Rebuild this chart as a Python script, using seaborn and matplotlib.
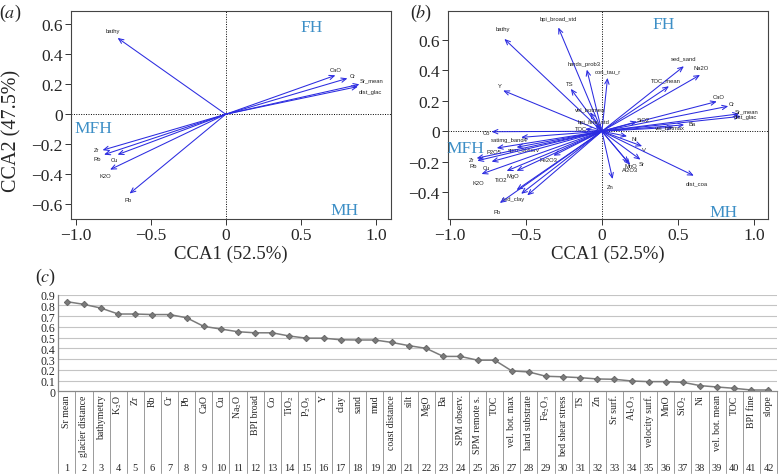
import numpy as np
import pandas as pd
import seaborn as sns
import matplotlib.pyplot as plt
from matplotlib.ticker import FixedLocator, FuncFormatter
from matplotlib.transforms import blended_transform_factory

# (a) CCA biplot, selected variables
a_vars = ['bathy', 'CaO', 'Cr', 'Sr_mean', 'dist_glac', 'Zr', 'Rb', 'Cu', 'K2O', 'Pb']
a_cca1 = [-0.72, 0.73, 0.81, 0.89, 0.88, -0.82, -0.81, -0.72, -0.77, -0.64]
a_cca2 = [0.51, 0.26, 0.24, 0.20, 0.185, -0.24, -0.27, -0.27, -0.37, -0.53]

# (b) CCA biplot, all variables
b_vars = ['bathy', 'bpi_broad_std', 'hards_prob3', 'con_tau_r', 'TS', 'Y', 'vel_botmea',
          'bpi_fine_std', 'TOC', 'sed_sand', 'Na2O', 'TOC_mean', 'CaO', 'Cr', 'Sr_mean',
          'dist_glac', 'SiO2', 'vel_botmax', 'Ba', 'Ni', 'V', 'Sr', 'MnO', 'Al2O3',
          'dist_coa', 'Zn', 'Co', 'satimg_band4', 'P2O5', 'spm_observ', 'Zr', 'Rb', 'Cu',
          'Fe2O3', 'K2O', 'TiO2', 'MgO', 'sed_clay', 'sed_mud', 'sed_silt', 'Pb']
b_cca1 = [-0.64, -0.286, -0.099, 0.037, -0.204, -0.648, -0.077,
          -0.044, -0.11, 0.538, 0.644, 0.44, 0.754, 0.829, 0.90,
          0.912, 0.23, 0.47, 0.54, 0.165, 0.264, 0.253, 0.176, 0.186,
          0.603, 0.07, -0.724, -0.53, -0.69, -0.56, -0.822, -0.818, -0.724,
          -0.318, -0.79, -0.625, -0.56, -0.56, -0.53, -0.49, -0.67]
b_cca2 = [0.605, 0.68, 0.404, 0.35, 0.278, 0.267, 0.125,
          0.042, 0.015, 0.426, 0.369, 0.295, 0.195, 0.164, 0.114,
          0.098, 0.063, 0.026, 0.042, -0.033, -0.098, -0.186, -0.208, -0.221,
          -0.291, -0.313, -0.003, -0.04, -0.11, -0.105, -0.177, -0.193, -0.199,
          -0.16, -0.28, -0.26, -0.26, -0.385, -0.41, -0.42, -0.47]

# (c) explained variation per variable
c_labels = ['Sr mean', 'glacier distance', 'bathymetry', 'K$_2$O', 'Zr', 'Rb', 'Cr', 'Pb',
            'CaO', 'Cu', 'Na$_2$O', 'BPI broad', 'Co', 'TiO$_2$', 'P$_2$O$_5$', 'Y', 'clay',
            'sand', 'mud', 'coast distance', 'silt', 'MgO', 'Ba', 'SPM observ.',
            'SPM remote s.', 'TOC', 'vel. bot. max', 'hard substrate', 'Fe$_2$O$_3$',
            'bed shear stress', 'TS', 'Zn', 'Sr surf.', 'Al$_2$O$_3$', 'velocity surf.',
            'MnO', 'SiO$_2$', 'Ni', 'vel. bot. mean', 'TOC', 'BPI fine', 'slope']
c_values = [0.835, 0.81, 0.775, 0.72, 0.72, 0.715, 0.715, 0.685,
            0.605, 0.58, 0.555, 0.545, 0.545, 0.515, 0.495, 0.495, 0.48,
            0.478, 0.478, 0.455, 0.425, 0.40, 0.325, 0.325,
            0.29, 0.29, 0.19, 0.18, 0.14,
            0.135, 0.127, 0.115, 0.112, 0.096, 0.09,
            0.09, 0.084, 0.053, 0.04, 0.028, 0.012, 0.012]

# label offsets in pixels (layout only)
a_off = {'bathy': (-5, 7), 'CaO': (0, 6), 'Cr': (5, 3), 'Sr_mean': (12, 4),
         'dist_glac': (12, -5), 'Zr': (-6, 1), 'Rb': (-7, -4), 'Cu': (-3, -5),
         'K2O': (-5, -6), 'Pb': (-2, -6)}
b_off = {'bathy': (-1, 10), 'bpi_broad_std': (0, 9), 'hards_prob3': (-3, 6),
         'con_tau_r': (0, 6), 'TS': (-1, 5), 'Y': (-3, 5), 'vel_botmea': (0, 3),
         'bpi_fine_std': (-2, 3), 'TOC': (-4, 0), 'sed_sand': (0, 8), 'Na2O': (1, 7),
         'TOC_mean': (-3, 6), 'CaO': (2, 5), 'Cr': (4, 3), 'Sr_mean': (8, 3),
         'dist_glac': (5, 0), 'SiO2': (6, 2), 'vel_botmax': (-4, 0), 'Ba': (8, 1),
         'Ni': (7, -2), 'V': (2, -3), 'Sr': (1, -4), 'MnO': (2, -3), 'Al2O3': (0, -5),
         'dist_coa': (3, -7), 'Zn': (-2, -7), 'Co': (-5, -1), 'satimg_band4': (-12, -2),
         'P2O5': (-3, -3), 'spm_observ': (7, -2), 'Zr': (-5, -1), 'Rb': (-4, -5),
         'Cu': (-5, -6), 'Fe2O3': (-5, -4), 'K2O': (-3, -9), 'TiO2': (-6, -9),
         'MgO': (-4, -5), 'sed_clay': (-3, -8), 'Pb': (-3, -9)}

sns.set_theme(style="ticks")
plt.rcParams['font.family'] = ['Liberation Serif', 'DejaVu Serif']
plt.rcParams['mathtext.fontset'] = 'stix'

ARROW = '#2b2be0'
QUAD = '#3d8fc6'

fig = plt.figure(figsize=(7.79, 4.77), dpi=100)
W, H = 779.0, 477.0


def biplot(ax, names, xs, ys, offsets, ylim, yticks, quads):
    ax.axhline(0, color='black', lw=0.7, ls=(0, (1, 1.5)), zorder=1)
    ax.axvline(0, color='black', lw=0.7, ls=(0, (1, 1.5)), zorder=1)
    for name, x, y in zip(names, xs, ys):
        ax.annotate('', xy=(x, y), xytext=(0, 0),
                    arrowprops=dict(arrowstyle='->,head_length=0.3,head_width=0.13',
                                    color=ARROW, lw=0.75, shrinkA=0, shrinkB=0))
        if name in offsets:
            ax.annotate(name, xy=(x, y), xytext=offsets[name], textcoords='offset pixels',
                        ha='center', va='center', fontsize=4.2,
                        family=['Liberation Sans', 'DejaVu Sans'], color='#222222')
    for txt, qx, qy in quads:
        ax.text(qx, qy, txt, color=QUAD, fontsize=12.5, ha='center', va='center')
    ax.set_xlim(-1.03, 1.1)
    ax.set_ylim(*ylim)
    ax.xaxis.set_major_locator(FixedLocator([-1.0, -0.5, 0, 0.5, 1.0]))
    ax.yaxis.set_major_locator(FixedLocator(yticks))
    fmt = FuncFormatter(lambda v, p: '0' if abs(v) < 1e-9 else ('%.1f' % v).replace('-', '\u2212'))
    ax.xaxis.set_major_formatter(fmt)
    ax.yaxis.set_major_formatter(fmt)
    ax.tick_params(labelsize=12.5, length=4, width=0.7, color='#333333', pad=2)
    for s in ax.spines.values():
        s.set_color('#444444')
        s.set_linewidth(0.8)
    ax.set_xlabel('CCA1 (52.5%)', fontsize=13.5, labelpad=1)


ax_a = fig.add_axes([71 / W, 1 - 220 / H, (391 - 71) / W, (220 - 12) / H])
biplot(ax_a, a_vars, a_cca1, a_cca2, a_off, (-0.70, 0.69),
       [-0.6, -0.4, -0.2, 0, 0.2, 0.4, 0.6],
       [('FH', 0.57, 0.58), ('MFH', -0.88, -0.095), ('MH', 0.79, -0.64)])
fig.text(12 / W, 1 - 131 / H, 'CCA2 (47.5%)', fontsize=14.5, rotation=90,
         ha='center', va='center')

ax_b = fig.add_axes([448 / W, 1 - 220 / H, (768 - 448) / W, (220 - 11.7) / H])
biplot(ax_b, b_vars, b_cca1, b_cca2, b_off, (-0.575, 0.79),
       [-0.4, -0.2, 0, 0.2, 0.4, 0.6],
       [('FH', 0.405, 0.70), ('MFH', -0.895, -0.11), ('MH', 0.80, -0.53)])
ax_b.set_xlim(-1.01, 1.09)

fig.text(10 / W, 1 - 13 / H, r'($\mathit{a}$)', fontsize=13, ha='center', va='center')
fig.text(421 / W, 1 - 13 / H, r'($\mathit{b}$)', fontsize=13, ha='center', va='center')
fig.text(46 / W, 1 - 277 / H, r'($\mathit{c}$)', fontsize=13, ha='center', va='center')

# (c) line chart with category table
ax_c = fig.add_axes([58.3 / W, 1 - 392.3 / H, (777 - 58.3) / W, (392.3 - 295.7) / H])
df = pd.DataFrame({'pos': np.arange(len(c_labels)), 'value': c_values})
for v in np.arange(0.1, 0.95, 0.1):
    ax_c.axhline(v, color='#c4c4c4', lw=0.8, zorder=0)
sns.lineplot(data=df, x='pos', y='value', ax=ax_c, color='#7b7b7b', lw=1.1,
             marker='D', markersize=3.2, markeredgecolor='#6a6a6a')
ax_c.set_xlim(-0.5, len(c_labels) - 0.5)
ax_c.set_ylim(0, 0.9)
ax_c.set_yticks(np.round(np.arange(0, 0.95, 0.1), 1))
ax_c.set_yticklabels(['0'] + ['%.1f' % v for v in np.arange(0.1, 0.95, 0.1)])
ax_c.set_xticks([])
ax_c.set_xlabel('')
ax_c.set_ylabel('')
ax_c.tick_params(axis='y', length=0, labelsize=8.5, pad=2)
for side in ['top', 'right']:
    ax_c.spines[side].set_visible(False)
ax_c.spines['bottom'].set_color('#8a8a8a')
ax_c.spines['left'].set_color('#8a8a8a')
ax_c.spines['bottom'].set_linewidth(0.9)
ax_c.spines['left'].set_linewidth(0.9)

tr = blended_transform_factory(ax_c.transData, ax_c.transAxes)
ax_h = (392.3 - 295.7)
bot = -(474 - 392.3) / ax_h
for k in range(len(c_labels) + 1):
    ax_c.plot([k - 0.5, k - 0.5], [0, bot], transform=tr, color='#9a9a9a', lw=0.7,
              clip_on=False)
for i, lab in enumerate(c_labels):
    ax_c.text(i, -3 / ax_h, lab, transform=tr, rotation=90, ha='center', va='top',
              fontsize=7, clip_on=False)
    ax_c.text(i, -(469 - 392.3) / ax_h, str(i + 1), transform=tr, ha='center',
              va='center', fontsize=7.5, clip_on=False)

fig.savefig('out.png', dpi=100)
